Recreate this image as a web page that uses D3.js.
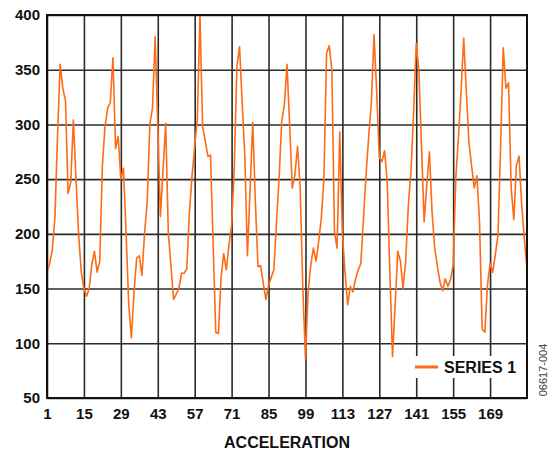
<!DOCTYPE html>
<html>
<head>
<meta charset="utf-8">
<script src="https://cdn.jsdelivr.net/npm/d3@7"></script>
<style>
  body { margin: 0; background: #fff; }
  text { font-family: "Liberation Sans", Arial, sans-serif; }
</style>
</head>
<body>
<div id="chart"></div>
<script>
// Series values, one per sample (samples 1..183)
const series1 = [
  165, 173, 185, 215, 290, 355, 333, 322, 237, 247,
  304, 250, 199, 165, 150, 143, 150, 172, 184, 165,
  175, 262, 298, 315, 320, 361, 278, 289, 250, 260,
  200, 135, 105, 147, 178, 180, 162, 201, 229, 300,
  315, 380, 300, 216, 258, 301, 201, 171, 140, 145,
  150, 164, 164, 168, 220, 253, 280, 305, 400, 298,
  285, 271, 272, 190, 110, 109, 160, 182, 167, 190,
  208, 260, 353, 371, 320, 272, 180, 240, 302, 230,
  170, 171, 155, 140, 153, 160, 167, 210, 251, 303,
  318, 355, 300, 242, 254, 280, 242, 150, 86, 147,
  171, 187, 175, 193, 214, 251, 365, 372, 350, 202,
  187, 293, 200, 165, 135, 152, 147, 159, 167, 173,
  214, 255, 290, 320, 382, 330, 270, 266, 276, 248,
  165, 88, 135, 184, 175, 150, 175, 226, 257, 310,
  374, 349, 280, 211, 245, 275, 220, 187, 171, 156,
  148, 159, 152, 158, 171, 251, 288, 330, 379, 330,
  283, 262, 242, 253, 211, 113, 110, 153, 173, 165,
  181, 199, 280, 370, 333, 338, 242, 213, 263, 271,
  226, 195, 168
];
const seriesName = "SERIES 1";
const xTicks = [1, 15, 29, 43, 57, 71, 85, 99, 113, 127, 141, 155, 169];
const yTicks = [50, 100, 150, 200, 250, 300, 350, 400];
const xTitle = "ACCELERATION";
const figureId = "06617-004";

const data = series1.map((v, i) => ({ x: i + 1, value: v }));

// Chart dimensions and margins
const margin = { top: 15, right: 26, bottom: 54, left: 47 };
const width = 553 - margin.left - margin.right;
const height = 452 - margin.top - margin.bottom;

const svg = d3
  .select("#chart")
  .append("svg")
  .attr("width", 553)
  .attr("height", 452)
  .append("g")
  .attr("transform", `translate(${margin.left},${margin.top})`);

// Scales
const x = d3.scaleLinear().domain([1, data.length]).range([0, width]);
const y = d3.scaleLinear().domain([50, 400]).range([height, 0]);

// Grid lines (drawn as axis ticks stretched across the plot)
const xAxis = svg
  .append("g")
  .attr("transform", `translate(0, ${height})`)
  .call(d3.axisBottom(x).tickValues(xTicks).tickSize(-height).tickPadding(7).tickFormat(d3.format("d")));

const yAxis = svg
  .append("g")
  .call(d3.axisLeft(y).tickValues(yTicks).tickSize(-width).tickPadding(7));

[xAxis, yAxis].forEach((g) => {
  g.select(".domain").remove();
  g.selectAll(".tick line").attr("stroke", "#2a2a2a").attr("stroke-width", 1.6);
  g.selectAll(".tick text")
    .attr("fill", "#111")
    .style("font-size", "15px")
    .style("font-weight", "bold");
});
xAxis.selectAll(".tick text").attr("dy", "0.9em");

// Line path
const line = d3
  .line()
  .x((d) => x(d.x))
  .y((d) => y(d.value));

svg
  .append("path")
  .datum(data)
  .attr("fill", "none")
  .attr("stroke", "#FF6A14")
  .attr("stroke-width", 1.6)
  .attr("stroke-linejoin", "round")
  .attr("d", line);

// Frame
svg
  .append("rect")
  .attr("width", width)
  .attr("height", height)
  .attr("fill", "none")
  .attr("stroke", "#111")
  .attr("stroke-width", 2);

// Legend (white box inside the plot, bottom right)
const legend = svg.append("g").attr("transform", `translate(${width - 117}, ${height - 42})`);
legend.append("rect").attr("width", 116).attr("height", 22).attr("y", 0).attr("fill", "#fff");
legend
  .append("line")
  .attr("x1", 5)
  .attr("x2", 28)
  .attr("y1", 11)
  .attr("y2", 11)
  .attr("stroke", "#FF6A14")
  .attr("stroke-width", 3);
legend
  .append("text")
  .attr("x", 34)
  .attr("y", 11)
  .attr("dy", "0.36em")
  .attr("fill", "#111")
  .style("font-size", "16px")
  .style("font-weight", "bold")
  .text(seriesName);

// Axis title
svg
  .append("text")
  .attr("x", width / 2)
  .attr("y", height + 44)
  .attr("dy", "0.36em")
  .attr("text-anchor", "middle")
  .attr("fill", "#111")
  .style("font-size", "16px")
  .style("font-weight", "bold")
  .text(xTitle);

// Figure id, rotated along the right edge
svg
  .append("text")
  .attr("transform", `translate(${width + 16}, ${height - 28}) rotate(-90)`)
  .attr("text-anchor", "middle")
  .attr("dy", "0.36em")
  .attr("fill", "#444")
  .style("font-size", "11px")
  .text(figureId);
</script>
</body>
</html>
